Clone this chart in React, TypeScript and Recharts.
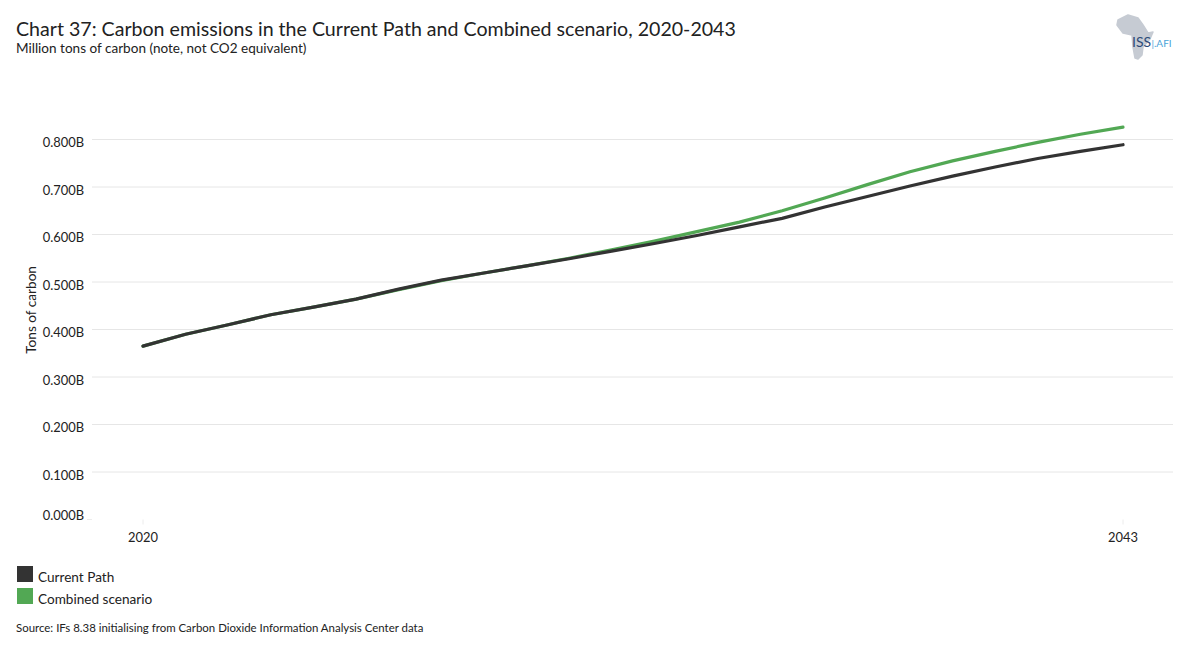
import React from 'react';
import { LineChart, Line, XAxis, YAxis, CartesianGrid } from 'recharts';

const years = [2020,2021,2022,2023,2024,2025,2026,2027,2028,2029,2030,2031,2032,2033,2034,2035,2036,2037,2038,2039,2040,2041,2042,2043];
const currentPath = [0.365,0.39,0.41,0.431,0.447,0.464,0.485,0.504,0.519,0.534,0.549,0.565,0.581,0.598,0.616,0.634,0.658,0.68,0.702,0.723,0.742,0.76,0.775,0.789];
const combined = [0.365,0.39,0.41,0.431,0.447,0.464,0.484,0.503,0.519,0.534,0.55,0.568,0.586,0.606,0.626,0.65,0.677,0.705,0.732,0.755,0.775,0.794,0.811,0.826];
const yTicks = [0,0.1,0.2,0.3,0.4,0.5,0.6,0.7,0.8];
const xTicks = [2020,2043];
const data = years.map((year, i) => ({ year, current: currentPath[i], combined: combined[i] }));

const FONT = 'Lato, "Open Sans", sans-serif';
const TICK_SIZE = 12.9;
const legendItems = [
  { label: 'Current Path', color: '#333333' },
  { label: 'Combined scenario', color: '#52a854' },
];

const LegendBox = () => (
  <div style={{ position: 'absolute', left: 17, top: 566, width: 220 }}>
    {legendItems.map((it) => (
      <div key={it.label} style={{ position: 'relative', height: 22, width: 200 }}>
        <span style={{ position: 'absolute', left: 0, top: 0, width: 16, height: 16, background: it.color }} />
        <span style={{ position: 'absolute', left: 21, top: 3, fontSize: 13.6, lineHeight: '16px', color: '#222', whiteSpace: 'nowrap' }}>{it.label}</span>
      </div>
    ))}
  </div>
);

const Logo = () => (
  <svg width="70" height="50" viewBox="0 0 70 50" style={{ position: 'absolute', left: 1110, top: 12 }}>
    <path d="M8 8 L18 3 L28 6 L33 13 L38 21 L43 20 L40 27 L33 35 L32 43 L28 47 L25 46 L23 35 L22 23 L13 21 L7 13 Z" fill="#c6cbd3" stroke="#c6cbd3" strokeWidth="1.5" strokeLinejoin="round" />
    <text x="22" y="35" fontSize="14" fill="#2c4a78" fontFamily={FONT}>ISS</text>
    <text x="41.5" y="35" fontSize="10" fill="#4aa3d8" fontFamily={FONT}>|.AFI</text>
  </svg>
);

const YTick = (props: any) => {
  const { y, payload } = props;
  const isZero = payload.value === 0;
  return (
    <g>
      {isZero && <line x1={87} x2={92} y1={y} y2={y} stroke="#ececec" />}
      <text x={84} y={isZero ? y - 4 : y + 3} dy="0.355em" textAnchor="end" fontSize={TICK_SIZE} fill="#222" fontFamily={FONT}>
        {payload.value.toFixed(3) + 'B'}
      </text>
    </g>
  );
};

export default function App() {
  return (
    <div style={{ position: 'absolute', left: 0, top: 0, width: 1186, height: 656, background: '#fff', fontFamily: FONT, overflow: 'hidden' }}>
      <div style={{ position: 'absolute', left: 16, top: 18, fontSize: 19.6, lineHeight: '22px', color: '#222', whiteSpace: 'nowrap' }}>
        Chart 37: Carbon emissions in the Current Path and Combined scenario, 2020-2043
      </div>
      <div style={{ position: 'absolute', left: 16, top: 40, fontSize: 13.55, lineHeight: '16px', color: '#222', whiteSpace: 'nowrap' }}>
        Million tons of carbon (note, not CO2 equivalent)
      </div>
      <LineChart width={1186} height={656} data={data} margin={{ top: 92, right: 13, bottom: 106.5, left: 0 }}>
        <CartesianGrid vertical={false} stroke="#e6e6e6" horizontalValues={yTicks.slice(1)} />
        <XAxis
          dataKey="year"
          type="number"
          domain={[2020, 2043]}
          ticks={xTicks}
          height={30}
          padding={{ left: 51, right: 50 }}
          axisLine={false}
          tickLine={{ stroke: '#ececec' }}
          tickSize={5}
          tickMargin={8.5}
          tick={{ fontSize: TICK_SIZE, fill: '#222', fontFamily: FONT }}
          tickFormatter={(v: number) => String(v)}
        />
        <YAxis
          type="number"
          width={92}
          domain={[0, 0.9]}
          ticks={yTicks}
          axisLine={false}
          tickLine={false}
          tick={<YTick />}
          label={{ value: 'Tons of carbon', angle: -90, position: 'insideLeft', offset: 0, dx: 31, dy: 48, fontSize: 13.6, fill: '#222', fontFamily: FONT }}
        />
        <Line dataKey="combined" name="Combined scenario" stroke="#52a854" strokeWidth={3.2} dot={false} isAnimationActive={false} strokeLinecap="round" />
        <Line dataKey="current" name="Current Path" stroke="#333333" strokeWidth={3.2} dot={false} isAnimationActive={false} strokeLinecap="round" />
      </LineChart>
      <LegendBox />
      <div style={{ position: 'absolute', left: 16, top: 621, fontSize: 11.45, lineHeight: '14px', color: '#222', whiteSpace: 'nowrap' }}>
        Source: IFs 8.38 initialising from Carbon Dioxide Information Analysis Center data
      </div>
      <Logo />
    </div>
  );
}
